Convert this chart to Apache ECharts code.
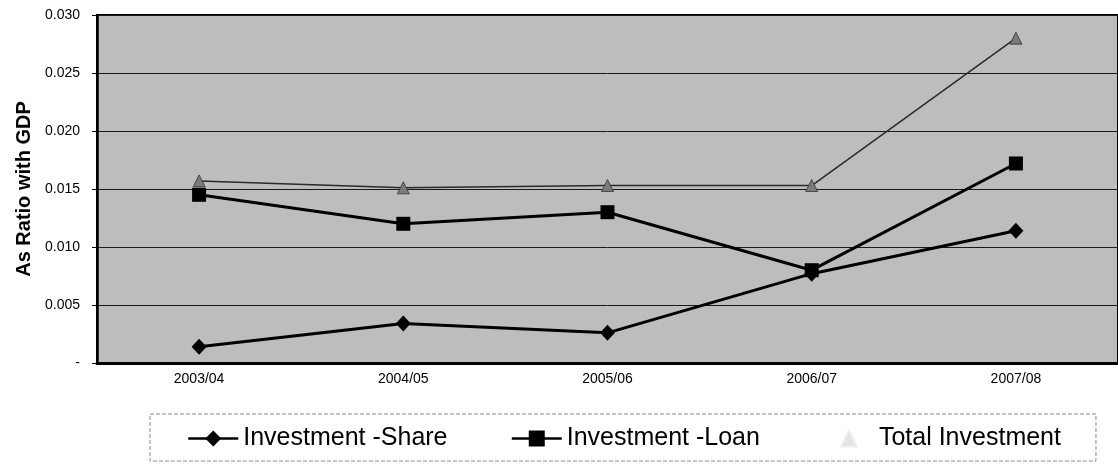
<!DOCTYPE html>
<html>
<head>
<meta charset="utf-8">
<script src="https://cdn.jsdelivr.net/npm/echarts@6/dist/echarts.min.js"></script>
<style>
  html, body { margin: 0; padding: 0; background: #fff; }
  #chart { width: 1118px; height: 465px; }
</style>
</head>
<body>
<div id="chart"></div>
<script>
// values
var years = ['2003/04', '2004/05', '2005/06', '2006/07', '2007/08'];
var shareValues = [0.0014, 0.0034, 0.0026, 0.0077, 0.0114];
var loanValues = [0.0145, 0.0120, 0.0130, 0.0080, 0.0172];
var totalValues = [0.0157, 0.0151, 0.0153, 0.0153, 0.0280];

var FONT = 'Liberation Sans, Arial, sans-serif';

var chart = echarts.init(document.getElementById('chart'));

chart.setOption({
    animation: false,
    backgroundColor: '#fff',
    textStyle: { fontFamily: FONT, color: '#000' },
    grid: {
        left: 97, right: 0, top: 15, bottom: 102,
        show: true,
        backgroundColor: '#bdbdbd',
        borderColor: '#000',
        borderWidth: 2
    },
    legend: {
        left: 150, top: 414,
        padding: [12, 35, 10, 37],
        borderColor: '#8a8a8a', borderWidth: 1, borderType: 'dashed',
        itemWidth: 50, itemHeight: 20, itemGap: 63,
        textStyle: { fontFamily: FONT, fontSize: 25, color: '#000' },
        data: [
            { name: 'Investment -Share', lineStyle: { width: 2.5 } },
            { name: 'Investment -Loan', lineStyle: { width: 2.5 } },
            { name: 'Total Investment', lineStyle: { opacity: 0 }, itemStyle: { color: '#e4e4e4', borderColor: '#eeeeee' } }
        ]
    },
    xAxis: {
        type: 'category',
        data: years,
        boundaryGap: true,
        axisLine: { show: true, lineStyle: { color: '#000', width: 3 } },
        axisTick: { show: false },
        axisLabel: { fontFamily: FONT, fontSize: 14, color: '#000', margin: 9 }
    },
    yAxis: {
        type: 'value',
        min: 0, max: 0.03, interval: 0.005,
        name: 'As Ratio with GDP',
        nameLocation: 'middle',
        nameGap: 60,
        nameTextStyle: { fontFamily: FONT, fontSize: 20, fontWeight: 'bold', color: '#000' },
        axisLine: { show: true, lineStyle: { color: '#000', width: 2.5 } },
        axisTick: { show: true, length: 5, lineStyle: { color: '#000' } },
        axisLabel: {
            fontFamily: FONT, fontSize: 14, color: '#000', margin: 17,
            formatter: function (v) { return v === 0 ? '-' : v.toFixed(3); }
        },
        splitLine: { show: true, lineStyle: { color: '#1a1a1a', width: 1 } }
    },
    series: [
        {
            name: 'Investment -Share',
            type: 'line',
            data: shareValues,
            symbol: 'diamond', symbolSize: [15, 16],
            lineStyle: { color: '#000', width: 3 },
            itemStyle: { color: '#000' }
        },
        {
            name: 'Investment -Loan',
            type: 'line',
            data: loanValues,
            symbol: 'rect', symbolSize: 14,
            lineStyle: { color: '#000', width: 3 },
            itemStyle: { color: '#000' }
        },
        {
            name: 'Total Investment',
            type: 'line',
            data: totalValues,
            symbol: 'triangle', symbolSize: 12,
            lineStyle: { color: '#2a2a2a', width: 1.5 },
            itemStyle: { color: '#7a7a7a', borderColor: '#333', borderWidth: 0.8 }
        }
    ]
});
</script>
</body>
</html>
